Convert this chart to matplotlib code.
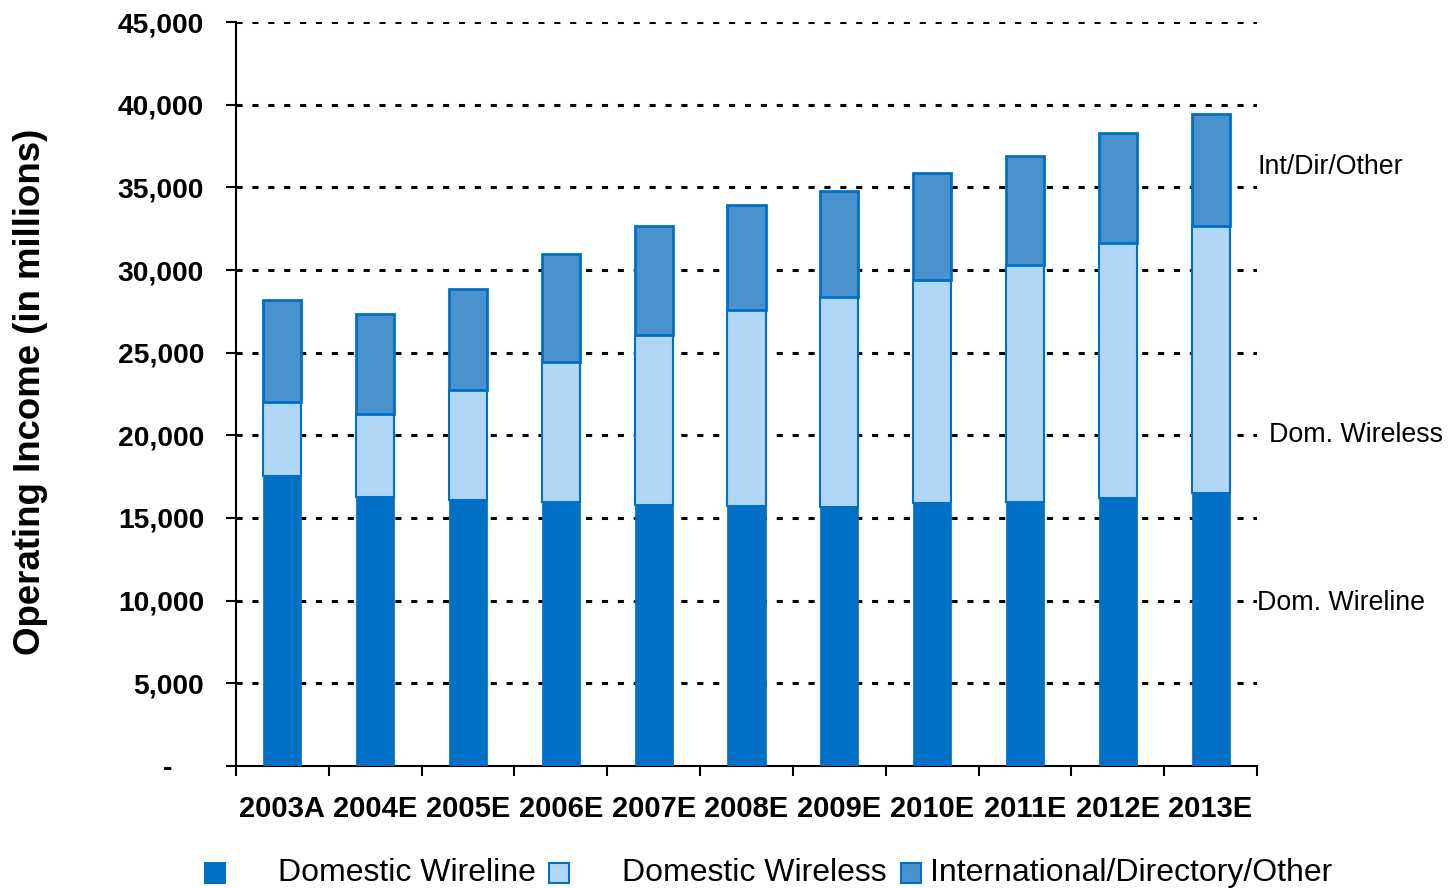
import numpy as np
import matplotlib.pyplot as plt
from matplotlib.patches import Rectangle
from matplotlib.transforms import blended_transform_factory

plt.rcParams['font.family'] = ['Liberation Sans', 'DejaVu Sans']

years = ['2003A', '2004E', '2005E', '2006E', '2007E', '2008E',
         '2009E', '2010E', '2011E', '2012E', '2013E']
wireline = [17550, 16270, 16090, 15970, 15790, 15730, 15670, 15910, 15970, 16210, 16520]
wireless_top = [22020, 21290, 22750, 24440, 26070, 27590, 28370, 29400, 30310, 31640, 32670]
total_top = [28190, 27340, 28860, 30970, 32670, 33940, 34790, 35870, 36900, 38290, 39440]

wireless = [w - d for w, d in zip(wireless_top, wireline)]
other = [t - w for t, w in zip(total_top, wireless_top)]

c_wireline = '#0070C6'
c_wireless = '#B0D6F5'
c_other = '#4A92CE'

fig = plt.figure(figsize=(14.53, 8.88), dpi=100)
ax = fig.add_axes([236 / 1453, 1 - 766 / 888, (1257 - 236) / 1453, (766 - 22) / 888])

x = np.arange(len(years))
bw = 0.41
ax.bar(x, wireline, bw, color=c_wireline, edgecolor=c_wireline, linewidth=0.5, zorder=3)
ax.bar(x, wireless, bw, bottom=wireline, color=c_wireless, edgecolor=c_wireline, linewidth=1.5, zorder=3)
ax.bar(x, other, bw, bottom=wireless_top, color=c_other, edgecolor=c_wireline, linewidth=2, zorder=3)

ax.set_xlim(-0.5, len(years) - 0.5)
ax.set_ylim(0, 45000)
yt = np.arange(0, 45001, 5000)
ax.set_yticks(yt)
ax.set_yticklabels(['-    '] + [f'{v:,}' for v in yt[1:]], fontsize=20.3, fontweight='bold')
for v in yt[1:]:
    ax.axhline(v, color='black', linestyle=(0, (2, 3.2)), linewidth=2.2, zorder=1)

ax.set_xticks(np.arange(len(years) + 1) - 0.5)
ax.set_xticklabels([])
ax.tick_params(axis='x', direction='out', length=7, width=1.5)
ax.tick_params(axis='y', direction='out', length=7, width=1.5, pad=16)
for xi, lab in enumerate(years):
    ax.text(xi, -2600, lab, ha='center', va='center', fontsize=21, fontweight='bold')

ax.spines['top'].set_visible(False)
ax.spines['right'].set_visible(False)
ax.spines['left'].set_linewidth(1.5)
ax.spines['bottom'].set_linewidth(1.5)

ax.set_ylabel('Operating Income (in millions)', fontsize=26.4, fontweight='bold')
ax.yaxis.set_label_coords((48 - 236) / 1021, (766 - 392) / 744)

tr = blended_transform_factory(ax.transAxes, ax.transData)
ax.text(1.0, 36200, 'Int/Dir/Other', transform=tr, fontsize=19.3, va='center', ha='left')
ax.text(1.012, 20000, 'Dom. Wireless', transform=tr, fontsize=19.3, va='center', ha='left')
ax.text(1.0, 9850, 'Dom. Wireline', transform=tr, fontsize=19.3, va='center', ha='left')

# legend drawn by hand to keep the original spacing
W, H = 1453, 888
legend_items = [
    (205, 278, 'Domestic Wireline', c_wireline, c_wireline),
    (549, 622, 'Domestic Wireless', c_wireless, c_wireline),
    (901, 930, 'International/Directory/Other', c_other, c_wireline),
]
for mx, tx, lab, fc, ec in legend_items:
    fig.patches.append(Rectangle((mx / W, 1 - 883 / H), 20 / W, 20 / H, transform=fig.transFigure,
                                 facecolor=fc, edgecolor=ec, linewidth=1.5))
    fig.text(tx / W, 1 - 873 / H, lab, fontsize=23, va='center', ha='left')

fig.savefig('out.png', dpi=100)
